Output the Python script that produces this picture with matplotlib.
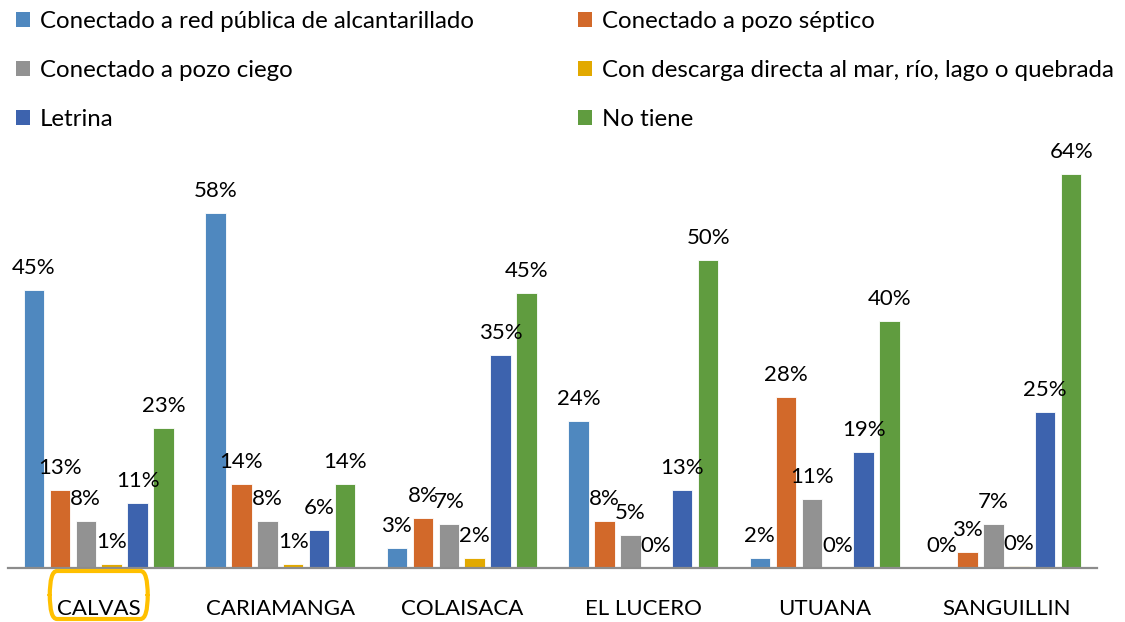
import numpy as np
import matplotlib
matplotlib.use("Agg")
import matplotlib.pyplot as plt
import matplotlib.transforms as mtransforms
from matplotlib.patches import FancyBboxPatch, Patch

plt.rcParams['font.family'] = ['Lato', 'DejaVu Sans']

# Cantones y tipo de eliminación de excretas (% de viviendas)
cantones = ['CALVAS', 'CARIAMANGA', 'COLAISACA', 'EL LUCERO', 'UTUANA', 'SANGUILLIN']
series = ['Conectado a red pública de alcantarillado',
          'Conectado a pozo séptico',
          'Conectado a pozo ciego',
          'Con descarga directa al mar, río, lago o quebrada',
          'Letrina',
          'No tiene']
red_publica = [45.1, 57.6, 3.2, 23.9, 1.6, 0.0]
pozo_septico = [12.7, 13.6, 8.1, 7.6, 27.8, 2.6]
pozo_ciego = [7.6, 7.6, 7.1, 5.4, 11.2, 7.1]
descarga = [0.7, 0.7, 1.6, 0.1, 0.0, 0.3]
letrina = [10.6, 6.2, 34.6, 12.7, 18.8, 25.3]
no_tiene = [22.7, 13.6, 44.6, 50.0, 40.1, 64.0]
valores = [red_publica, pozo_septico, pozo_ciego, descarga, letrina, no_tiene]
colores = ['#4F88BF', '#D2692A', '#929292', '#E2A900', '#3D63AE', '#609C3F']

fig = plt.figure(figsize=(11.25, 6.22), dpi=100)
W, H = 1125, 622
ax = fig.add_axes([8 / W, (622 - 568) / H, (1097 - 8) / W, (568 - 140) / H])

x = np.arange(len(cantones))
paso = 0.143
ancho = 0.113
for i, (vals, col) in enumerate(zip(valores, colores)):
    pos = x + (i - 2.5) * paso
    ax.bar(pos, vals, width=ancho, color=col, edgecolor='white', linewidth=0.6)
    for xb, v in zip(pos, vals):
        ax.annotate(f'{v:.0f}%', (xb, v), xytext=(0, 8.5), textcoords='offset points',
                    ha='center', va='bottom', fontsize=16, color='black')

ax.set_xlim(-0.5, len(cantones) - 0.5)
ax.set_ylim(0, 428 / 6.16)
ax.set_xticks(x)
ax.set_xticklabels(cantones, fontsize=16)
ax.tick_params(axis='x', length=0, pad=22)
ax.set_yticks([])
for s in ['top', 'left', 'right']:
    ax.spines[s].set_visible(False)
ax.spines['bottom'].set_color('#8C8C8C')
ax.spines['bottom'].set_linewidth(1.6)

# recuadro resaltando CALVAS
tr = mtransforms.blended_transform_factory(ax.transData, fig.transFigure)
caja = FancyBboxPatch((-0.27, 3 / H), 0.54, 48 / H,
                      boxstyle='round,pad=0,rounding_size=0.04',
                      transform=tr, fill=False, edgecolor='#FFC000',
                      linewidth=3, clip_on=False)
fig.add_artist(caja)

# leyenda en dos columnas
handles = [Patch(facecolor=c, edgecolor='none') for c in colores]
opts = dict(frameon=False, fontsize=17.3, handlelength=0.6, handleheight=0.6,
            handletextpad=0.4, labelspacing=1.17, borderaxespad=0, borderpad=0)
leg1 = fig.legend([handles[i] for i in (0, 2, 4)], [series[i] for i in (0, 2, 4)],
                  loc='upper left', bbox_to_anchor=(16 / W, 1 - 11 / H), **opts)
leg2 = fig.legend([handles[i] for i in (1, 3, 5)], [series[i] for i in (1, 3, 5)],
                  loc='upper left', bbox_to_anchor=(578 / W, 1 - 11 / H), **opts)

fig.savefig('out.png', dpi=100)
